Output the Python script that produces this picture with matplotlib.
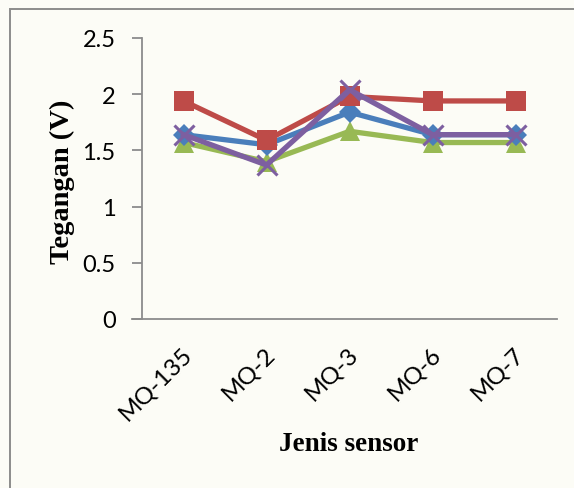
import matplotlib
matplotlib.use('Agg')
import matplotlib.pyplot as plt
from matplotlib.patches import Rectangle
import matplotlib.transforms as mtransforms

# --- Data ---
sensor = ['MQ-135', 'MQ-2', 'MQ-3', 'MQ-6', 'MQ-7']
tegBiru = [1.64, 1.55, 1.84, 1.64, 1.64]
tegMerah = [1.94, 1.59, 1.98, 1.94, 1.94]
tegHijau = [1.57, 1.40, 1.67, 1.57, 1.57]
tegUngu = [1.64, 1.37, 2.04, 1.64, 1.64]
yTicks = [0, 0.5, 1, 1.5, 2, 2.5]
yTickLabels = ['0', '0.5', '1', '1.5', '2', '2.5']

# --- Style ---
bgColor = '#fcfcf6'
fontTick = 'Lato'
fontLabel = 'Liberation Serif'

fig = plt.figure(figsize=(5.74, 4.89), dpi=100, facecolor=bgColor)

# border of the chart area (cut at right/bottom like the reference)
fig.patches.append(Rectangle((10 / 574, -0.05), 1.1, 1 - 10 / 489 + 0.05,
                             transform=fig.transFigure, fill=False,
                             edgecolor='#8c8c8c', linewidth=1.4))

ax = fig.add_axes([142 / 574, 1 - 320 / 489, (557 - 142) / 574, (320 - 39) / 489])
ax.set_facecolor('none')

x = list(range(len(sensor)))

# urutan gambar: hijau, biru, merah, ungu
ax.plot(x, tegHijau, color='#98b954', linewidth=3.8, marker='^', markersize=15,
        markeredgewidth=0, clip_on=False, zorder=3)
ax.plot(x, tegBiru, color='#4a7ebb', linewidth=3.8, marker='D', markersize=11,
        markeredgewidth=0, clip_on=False, zorder=4)
ax.plot(x, tegMerah, color='#be4b48', linewidth=3.8, marker='s', markersize=14,
        markeredgewidth=0, clip_on=False, zorder=5)
ax.plot(x, tegUngu, color='#7d5fa0', linewidth=3.8, marker='x', markersize=14,
        markeredgewidth=2.2, clip_on=False, zorder=6)

ax.set_xlim(-0.5, len(sensor) - 0.5)
ax.set_ylim(0, 2.5)

for s in ['top', 'right']:
    ax.spines[s].set_visible(False)
ax.spines['left'].set_color('#8c8c8c')
ax.spines['bottom'].set_color('#8c8c8c')
ax.spines['left'].set_linewidth(1.3)
ax.spines['bottom'].set_linewidth(1.3)
ax.spines['bottom'].set_bounds(-0.5 - 10 / 83, len(sensor) - 0.5)

ax.set_yticks(yTicks)
ax.set_yticklabels(yTickLabels, fontsize=17, family=fontTick)
ax.tick_params(axis='y', length=7, width=1.3, color='#8c8c8c', pad=12)

ax.set_xticks(x)
ax.set_xticklabels(sensor, fontsize=17.5, family=fontTick, rotation=45,
                   ha='right', va='top', rotation_mode='anchor')
ax.tick_params(axis='x', length=0, pad=0)
offset = mtransforms.ScaledTranslation(-2 / 100, -24 / 100, fig.dpi_scale_trans)
for lbl in ax.get_xticklabels():
    lbl.set_transform(lbl.get_transform() + offset)

fig.text(62 / 574, 1 - 182 / 489, 'Tegangan (V)', rotation=90, ha='center',
         va='center', fontsize=20.5, fontweight='bold', family=fontLabel)
fig.text(349 / 574, 1 - 445 / 489, 'Jenis sensor', ha='center', va='center',
         fontsize=19.5, fontweight='bold', family=fontLabel)

fig.savefig('out.png', dpi=100, facecolor=bgColor)
